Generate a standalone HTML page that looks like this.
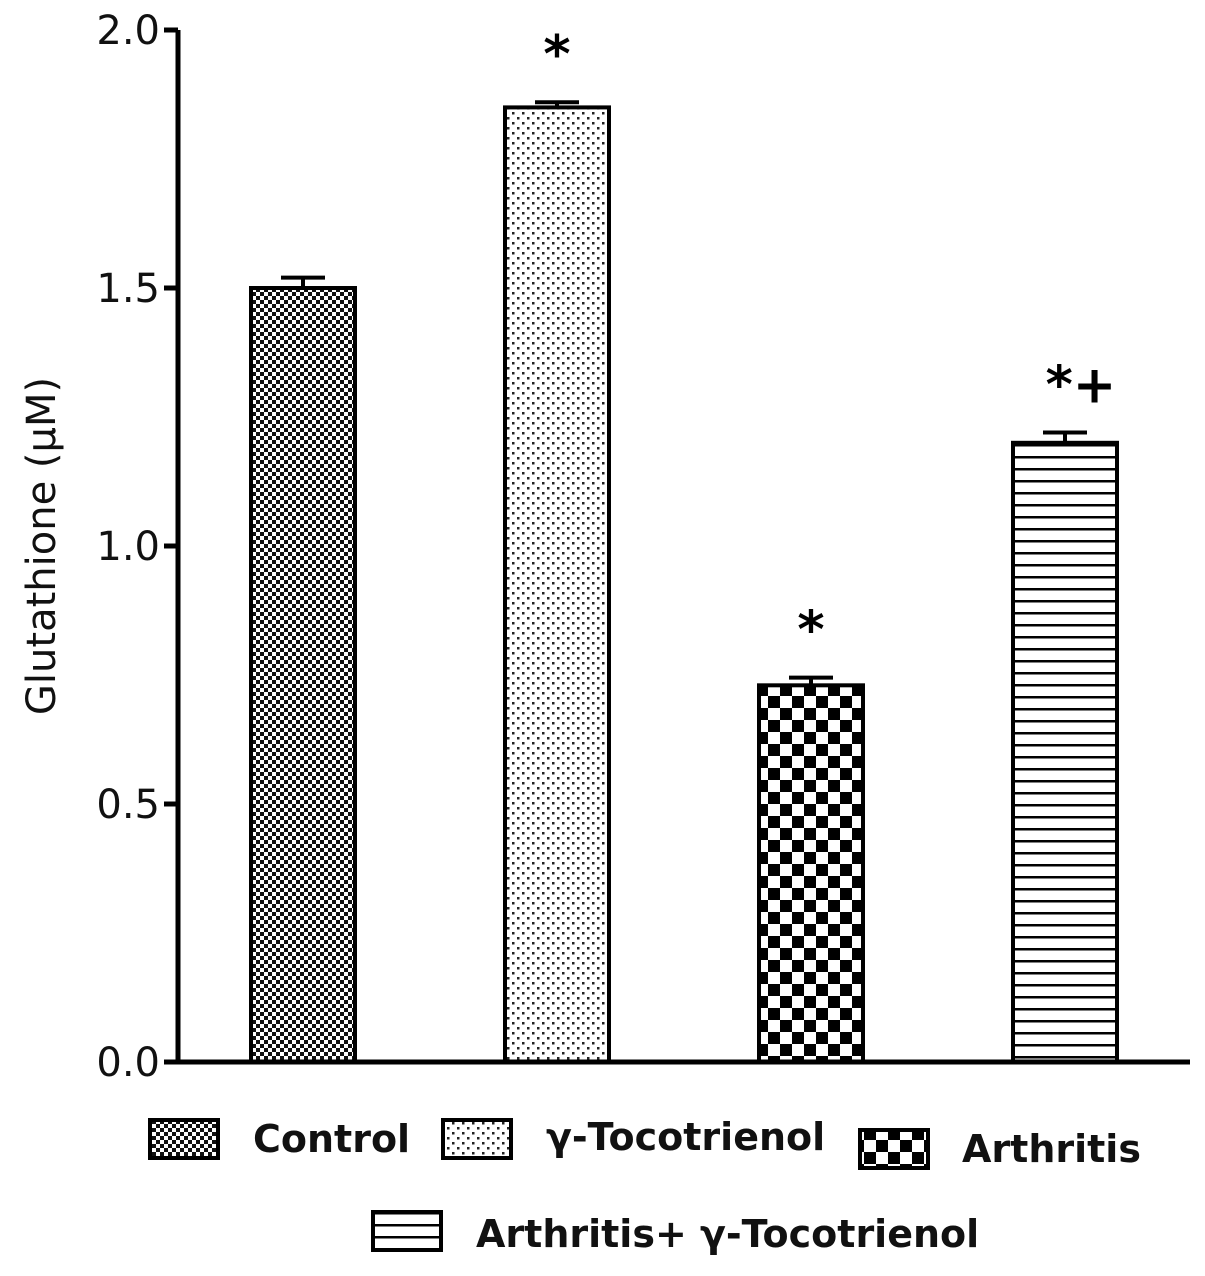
<!DOCTYPE html>
<html><head><meta charset="utf-8"><style>
body{margin:0;background:#fff;}
svg{display:block;font-family:"DejaVu Sans","Liberation Sans",sans-serif;}
</style></head><body>
<svg id="chart" width="1205" height="1276" viewBox="0 0 1205 1276">
<defs>
<pattern id="pCtrl" width="8" height="8" patternUnits="userSpaceOnUse"><rect width="8" height="8" fill="#fff"/><rect width="4" height="4" fill="#111"/><rect x="4" y="4" width="4" height="4" fill="#111"/></pattern>
<pattern id="pDot" width="10" height="10" patternUnits="userSpaceOnUse"><rect width="10" height="10" fill="#fff"/><rect x="2" y="2" width="2.5" height="2.5" fill="#222"/><rect x="7" y="7" width="2.5" height="2.5" fill="#222"/></pattern>
<pattern id="pArth" width="24" height="24" patternUnits="userSpaceOnUse"><rect width="24" height="24" fill="#fff"/><rect width="12" height="12" fill="#000"/><rect x="12" y="12" width="12" height="12" fill="#000"/></pattern>
<pattern id="pLine" width="12" height="12" patternUnits="userSpaceOnUse"><rect width="12" height="12" fill="#fff"/><rect y="0" width="12" height="2.5" fill="#000"/></pattern>
</defs>
<g id="bars"></g>
<g id="axes"></g>
<g id="legend"></g>
</svg>
<script>
const categories = ["Control", "γ-Tocotrienol", "Arthritis", "Arthritis+ γ-Tocotrienol"];
const values = [1.5, 1.85, 0.73, 1.2];
const errors = [0.02, 0.01, 0.015, 0.02];
const marks = ["", "*", "*", "*+"];
const yTicks = [0, 0.5, 1.0, 1.5, 2.0];
const yTickLabels = ["0.0", "0.5", "1.0", "1.5", "2.0"];

const NS = "http://www.w3.org/2000/svg";
const fills = ["url(#pCtrl)", "url(#pDot)", "url(#pArth)", "url(#pLine)"];
const x0 = 178, x1 = 1190, y0 = 1062, yTop = 30;
const yScale = v => y0 - (v / 2.0) * (y0 - yTop);
const barLeft = i => 251 + i * 254;
const barW = 104;
function mk(tag, attrs, parent) { const e = document.createElementNS(NS, tag); for (const k in attrs) e.setAttribute(k, attrs[k]); parent.appendChild(e); return e; }
const gB = document.getElementById('bars'), gA = document.getElementById('axes'), gL = document.getElementById('legend');

values.forEach((v, i) => {
  const xl = barLeft(i), yt = yScale(v), cx = xl + barW / 2;
  const r = mk('rect', {x: xl, y: yt, width: barW, height: y0 - yt, fill: fills[i], stroke: '#000', 'stroke-width': 4}, gB);
  
  
  const ye = yScale(v + errors[i]);
  const e = mk('path', {d: `M${cx} ${yt} V${ye} M${cx - 22} ${ye} H${cx + 22}`, stroke: '#000', 'stroke-width': 4, fill: 'none'}, gB);
  
  
  if (marks[i]) {
    const t = mk('text', {x: cx + (marks[i].length > 1 ? 16 : 0), y: yScale(v + errors[i]) - 30, 'text-anchor': 'middle', 'font-size': 52, 'font-weight': 'bold', fill: '#000'}, gB);
    t.textContent = marks[i];
    
    
  }
});

const ax = mk('path', {d: `M${x0} ${yTop} V${y0} H${x1}`, stroke: '#000', 'stroke-width': 5, fill: 'none'}, gA);


yTicks.forEach((v, i) => {
  const y = yScale(v);
  const tk = mk('line', {x1: x0 - 14, x2: x0, y1: y, y2: y, stroke: '#000', 'stroke-width': 5}, gA);
  
  
  const t = mk('text', {x: x0 - 18, y: y + 14, 'text-anchor': 'end', 'font-size': 40, fill: '#111'}, gA);
  t.textContent = yTickLabels[i];
  
  
});
const yt = mk('text', {x: 0, y: 0, transform: 'translate(55 546) rotate(-90)', 'text-anchor': 'middle', 'font-size': 40, fill: '#111'}, gA);
yt.textContent = 'Glutathione (µM)';



const legPos = [[150, 1120, 253, 1152], [443, 1120, 546, 1150], [860, 1130, 962, 1162], [373, 1212, 476, 1247]];
categories.forEach((c, i) => {
  const [bx, by, tx, ty] = legPos[i];
  const r = mk('rect', {x: bx, y: by, width: 68, height: 38, fill: fills[i], stroke: '#000', 'stroke-width': 4}, gL);
  
  
  const t = mk('text', {x: tx, y: ty, 'font-size': 38, 'font-weight': 'bold', fill: '#111'}, gL);
  t.textContent = c;
  
  
});
</script>
</body></html>
